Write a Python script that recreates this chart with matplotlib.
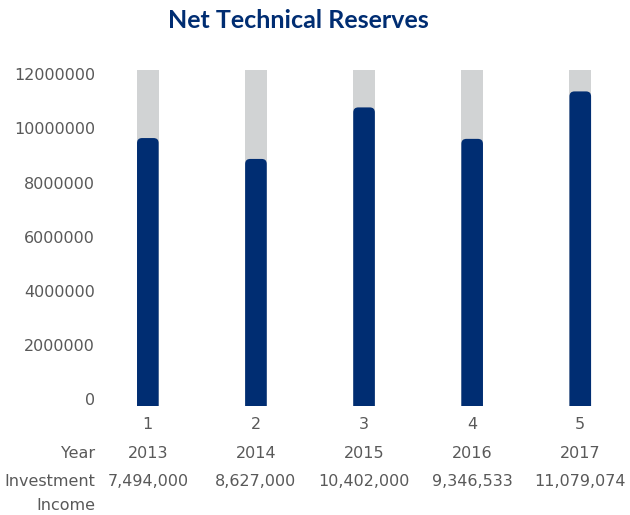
import matplotlib
matplotlib.use("Agg")
import matplotlib.pyplot as plt
from matplotlib.patches import FancyBboxPatch
from matplotlib import transforms

# data
categories = [1, 2, 3, 4, 5]
reserves = [9640000, 8870000, 10770000, 9610000, 11360000]
track_max = 12150000
years = ["2013", "2014", "2015", "2016", "2017"]
income_labels = ["7,494,000", "8,627,000", "10,402,000", "9,346,533", "11,079,074"]
y_ticks = [0, 2000000, 4000000, 6000000, 8000000, 10000000, 12000000]

navy = "#002D72"
grey = "#D1D3D4"
text_grey = "#595959"

plt.rcParams["font.family"] = ["DejaVu Sans"]

fig = plt.figure(figsize=(6.3, 5.15), dpi=100)
ax = fig.add_axes([0.16, 0.2117, 0.84, 0.6524])

y_lo = -240000
xlim = (0.565, 5.46)
ax.set_xlim(*xlim)
ax.set_ylim(y_lo, track_max)

bar_w = 0.2

# grey background tracks
ax.bar(categories, [track_max - y_lo] * len(categories), bottom=y_lo,
       width=bar_w, color=grey, zorder=1)

# rounded navy bars; aspect converts x units to y units for the corner radius
bbox = ax.get_position()
px_w = bbox.width * fig.get_figwidth() * fig.dpi
px_h = bbox.height * fig.get_figheight() * fig.dpi
x_per_px = (xlim[1] - xlim[0]) / px_w
y_per_px = (track_max - y_lo) / px_h
aspect = y_per_px / x_per_px
radius = 5 * x_per_px
for x, v in zip(categories, reserves):
    bottom = y_lo - 20 * y_per_px
    p = FancyBboxPatch((x - bar_w / 2, bottom), bar_w, v - bottom,
                       boxstyle=f"round,pad=0,rounding_size={radius}",
                       mutation_aspect=aspect, facecolor=navy,
                       edgecolor="none", zorder=2)
    ax.add_patch(p)

ax.set_yticks(y_ticks)
ax.set_yticklabels([str(t) for t in y_ticks])
ax.set_xticks(categories)
ax.set_xticklabels([str(c) for c in categories])
ax.tick_params(axis="y", length=0, pad=4, labelsize=11.5, labelcolor=text_grey)
ax.tick_params(axis="x", length=0, pad=8, labelsize=11.5, labelcolor=text_grey)
for s in ax.spines.values():
    s.set_visible(False)

# table rows under the chart
trans = transforms.blended_transform_factory(ax.transData, fig.transFigure)
label_x = 95 / 630
fig.text(label_x, 1 - 453 / 515, "Year", ha="right", va="center",
         fontsize=11.5, color=text_grey)
fig.text(label_x, 1 - 481.5 / 515, "Investment", ha="right", va="center",
         fontsize=11.5, color=text_grey)
fig.text(label_x, 1 - 505 / 515, "Income", ha="right", va="center",
         fontsize=11.5, color=text_grey)
for x, yr, inc in zip(categories, years, income_labels):
    ax.text(x, 1 - 453 / 515, yr, transform=trans, ha="center", va="center",
            fontsize=11.5, color=text_grey)
    ax.text(x, 1 - 481.5 / 515, inc, transform=trans, ha="center", va="center",
            fontsize=11.5, color=text_grey)

fig.text(298.5 / 630, 1 - 20 / 515, "Net Technical Reserves", ha="center",
         va="center", fontsize=18, fontweight="bold", color=navy,
         family=["Lato", "DejaVu Sans"])

fig.savefig("out.png", dpi=100)
